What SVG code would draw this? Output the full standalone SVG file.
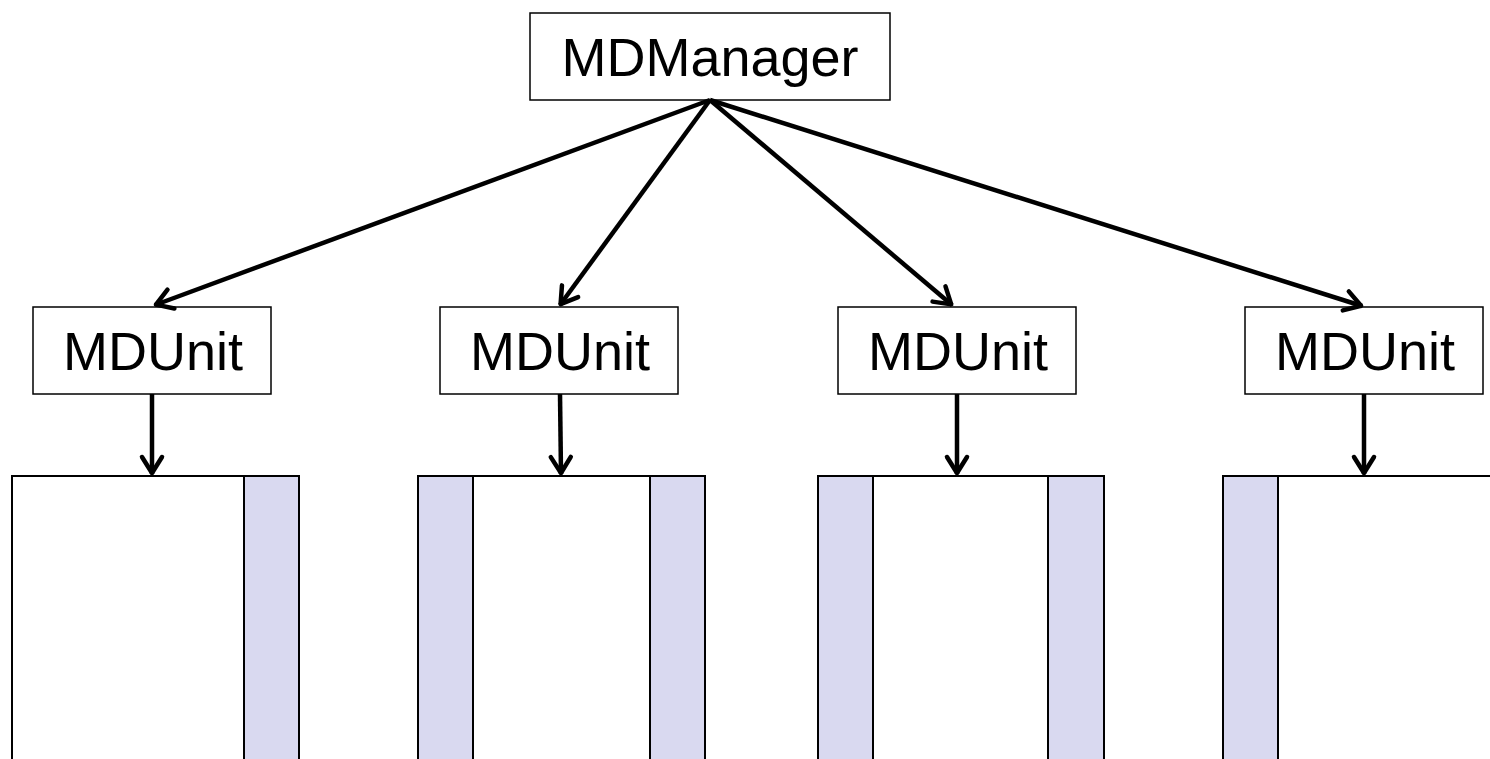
<svg xmlns="http://www.w3.org/2000/svg" width="1490" height="759" viewBox="0 0 1490 759">
<style>
.box{fill:#fff;stroke:#000;stroke-width:1.5}
.lbl{font-family:"Liberation Sans",Arial,sans-serif;font-size:54px;fill:#000;text-anchor:middle}
.col{fill:#fff;stroke:#000;stroke-width:2}
.strip{fill:#d9d9f0;stroke:#000;stroke-width:2}
.conn{stroke:#000;stroke-width:4.5;fill:none}
</style>
<defs>
<marker id="ah" viewBox="-22 -14 26 28" markerWidth="26" markerHeight="28" refX="0" refY="0" orient="auto" markerUnits="userSpaceOnUse">
<path d="M-17,-10 L-1,0 L-17,10" fill="none" stroke="#000" stroke-width="4.5" stroke-linecap="round" stroke-linejoin="round"/>
</marker>
</defs>
<rect width="1490" height="759" fill="#fff"/>
<g id="manager">
<rect class="box" x="530" y="13" width="360" height="87"/>
<text class="lbl" x="710" y="76">MDManager</text>
</g>
<g id="unit1">
<rect class="box" x="33" y="307" width="238" height="87"/>
<text class="lbl" x="153" y="370">MDUnit</text>
</g>
<g id="unit2">
<rect class="box" x="440" y="307" width="238" height="87"/>
<text class="lbl" x="560" y="370">MDUnit</text>
</g>
<g id="unit3">
<rect class="box" x="838" y="307" width="238" height="87"/>
<text class="lbl" x="958" y="370">MDUnit</text>
</g>
<g id="unit4">
<rect class="box" x="1245" y="307" width="238" height="87"/>
<text class="lbl" x="1365" y="370">MDUnit</text>
</g>
<g id="column1">
<rect class="col" x="12" y="476" width="287" height="300"/>
<rect class="strip" x="244" y="476" width="55" height="300"/>
</g>
<g id="column2">
<rect class="col" x="418" y="476" width="287" height="300"/>
<rect class="strip" x="418" y="476" width="55" height="300"/>
<rect class="strip" x="650" y="476" width="55" height="300"/>
</g>
<g id="column3">
<rect class="col" x="818" y="476" width="286" height="300"/>
<rect class="strip" x="818" y="476" width="55" height="300"/>
<rect class="strip" x="1048" y="476" width="56" height="300"/>
</g>
<g id="column4">
<rect class="col" x="1223" y="476" width="300" height="300"/>
<rect class="strip" x="1223" y="476" width="55" height="300"/>
</g>
<g id="connectors">
<line class="conn" x1="710" y1="100" x2="155" y2="305" marker-end="url(#ah)"/>
<line class="conn" x1="710" y1="100" x2="560" y2="305" marker-end="url(#ah)"/>
<line class="conn" x1="710" y1="100" x2="952" y2="305" marker-end="url(#ah)"/>
<line class="conn" x1="710" y1="100" x2="1362" y2="306" marker-end="url(#ah)"/>
<line class="conn" x1="152" y1="394" x2="152" y2="474" marker-end="url(#ah)"/>
<line class="conn" x1="560" y1="394" x2="561" y2="474" marker-end="url(#ah)"/>
<line class="conn" x1="957" y1="394" x2="957" y2="474" marker-end="url(#ah)"/>
<line class="conn" x1="1364" y1="394" x2="1364" y2="474" marker-end="url(#ah)"/>
</g>
</svg>
